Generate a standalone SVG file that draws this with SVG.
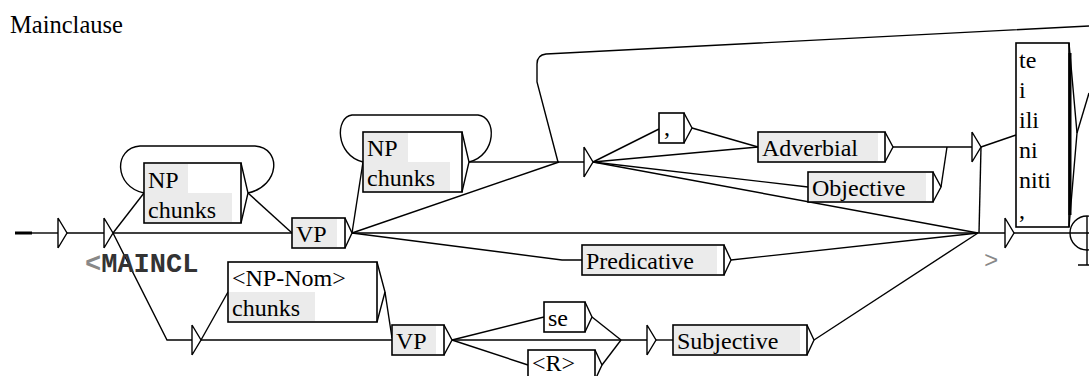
<svg xmlns="http://www.w3.org/2000/svg" width="1089" height="376" viewBox="0 0 1089 376">
<style>
.bx{fill:#fff;stroke:#000;stroke-width:1.6}
.g{fill:#ebebeb}
.t{font-family:"Liberation Serif","Times New Roman",serif;font-size:24px;fill:#000}
.ln{fill:none;stroke:#000;stroke-width:1.4}
.br{fill:none;stroke:#000;stroke-width:1.4}
.st{fill:#fff;stroke:#000;stroke-width:1.4}
.o{font-family:"Liberation Mono","Courier New",monospace;font-size:27px;font-weight:bold}
</style>
<rect width="1089" height="376" fill="#fff"/>
<text x="10" y="33" class="t" style="font-size:24.5px">Mainclause</text>

<g id="connectors">
<line x1="15" y1="233" x2="32" y2="233" stroke="#000" stroke-width="3"/>
<path class="ln" d="M32,233 H58"/>
<path class="ln" d="M67,233 H104"/>
<path class="ln" d="M113,233 L144,193"/>
<path class="ln" d="M113,233 H292"/>
<path class="ln" d="M113,233 L167,340 H192"/>
<path class="ln" d="M248,193 L292,233"/>
<path class="ln" d="M248,193 C280,186 282,148 255,146 L140,146 C113,148 114,187 144,193"/>
<path class="ln" d="M201,340 L228,292"/>
<path class="ln" d="M201,340 H392"/>
<path class="ln" d="M385,292 L392,338"/>
<path class="ln" d="M352,233 L363,162"/>
<path class="ln" d="M469,162 C497,155 497,117 478,115 L352,115 C335,117 335,155 363,162"/>
<path class="ln" d="M352,233 L559,162"/>
<path class="ln" d="M469,162 H584"/>
<path class="ln" d="M1089,26 L546,54 Q537,55 537,64 L537,82 L558,162"/>
<path class="ln" d="M352,233 H1005"/>
<path class="ln" d="M352,233 L562,260 H582"/>
<path class="ln" d="M731,260 L978,233"/>
<path class="ln" d="M593,162 L659,129"/>
<path class="ln" d="M593,162 L758,147"/>
<path class="ln" d="M692,128 L758,147"/>
<path class="ln" d="M593,162 L808,187"/>
<path class="ln" d="M593,162 L978,233"/>
<path class="ln" d="M893,147 H972"/>
<path class="ln" d="M941,187 L947,147"/>
<path class="ln" d="M981,147 L1016,135"/>
<path class="ln" d="M981,147 L979,233"/>
<path class="ln" d="M1014,233 H1089"/>
<path class="ln" d="M1077,133 L1089,93"/>
<path class="ln" d="M452,340 L544,317"/>
<path class="ln" d="M452,340 L528,365"/>
<path class="ln" d="M452,340 H647"/>
<path class="ln" d="M592,317 L621,340"/>
<path class="ln" d="M602,365 L621,340"/>
<path class="ln" d="M656,340 H673"/>
<path class="ln" d="M814,340 L978,233"/>
</g>

<g id="init"><path class="st" d="M58,218 V248 M58,218 L67,233 L58,248"/></g>
<g id="e1"><path class="st" d="M104,218 V248 M104,218 L113,233 L104,248"/>
<text x="85" y="272" class="o"><tspan fill="#888">&lt;</tspan><tspan fill="#333">MAINCL</tspan></text></g>
<g id="e2"><path class="st" d="M192,325 V355 M192,325 L201,340 L192,355"/></g>
<g id="e3"><path class="st" d="M584,147 V177 M584,147 L593,162 L584,177"/></g>
<g id="e4"><path class="st" d="M647,325 V355 M647,325 L656,340 L647,355"/></g>
<g id="e5"><path class="st" d="M972,132 V162 M972,132 L981,147 L972,162"/></g>
<g id="e6"><path class="st" d="M1005,218 V248 M1005,218 L1014,233 L1005,248"/>
<text x="984" y="268" style="font-family:'Liberation Mono',monospace;font-size:24px;fill:#888">&gt;</text></g>

<g id="np1"><rect class="bx" x="144" y="163" width="97" height="60"/>
<rect class="g" x="145" y="164" width="43" height="29"/><rect class="g" x="145" y="193" width="87" height="29"/>
<text class="t" x="148" y="188">NP</text><text class="t" x="148" y="218">chunks</text>
<path class="br" d="M241,163 L248,193 L241,223"/></g>

<g id="vp1"><rect class="bx" x="292" y="218" width="53" height="30"/>
<rect class="g" x="293" y="219" width="44" height="28"/>
<text class="t" x="296" y="242">VP</text>
<path class="br" d="M345,218 L352,233 L345,248"/></g>

<g id="np2"><rect class="bx" x="363" y="132" width="99" height="60"/>
<rect class="g" x="364" y="133" width="44" height="29"/><rect class="g" x="364" y="162" width="86" height="29"/>
<text class="t" x="367" y="156">NP</text><text class="t" x="367" y="186">chunks</text>
<path class="br" d="M462,132 L469,162 L462,192"/></g>

<g id="comma"><rect class="bx" x="659" y="113" width="25" height="30"/>
<text class="t" x="664" y="135">,</text>
<path class="br" d="M684,113 L692,128 L684,143"/></g>

<g id="adverbial"><rect class="bx" x="758" y="132" width="127" height="30"/>
<rect class="g" x="759" y="133" width="119" height="28"/>
<text class="t" x="762" y="156">Adverbial</text>
<path class="br" d="M885,132 L893,147 L885,162"/></g>

<g id="objective"><rect class="bx" x="808" y="172" width="125" height="30"/>
<rect class="g" x="809" y="173" width="117" height="28"/>
<text class="t" x="812" y="196">Objective</text>
<path class="br" d="M933,172 L941,187 L933,202"/></g>

<g id="predicative"><rect class="bx" x="582" y="245" width="142" height="30"/>
<rect class="g" x="583" y="246" width="134" height="28"/>
<text class="t" x="586" y="269">Predicative</text>
<path class="br" d="M724,245 L731,260 L724,275"/></g>

<g id="npnom"><rect class="bx" x="228" y="262" width="149" height="60"/>
<rect class="g" x="229" y="292" width="86" height="29"/>
<text class="t" x="232" y="286">&lt;NP-Nom&gt;</text><text class="t" x="232" y="316">chunks</text>
<path class="br" d="M377,262 L385,292 L377,322"/></g>

<g id="vp2"><rect class="bx" x="392" y="325" width="52" height="30"/>
<rect class="g" x="393" y="326" width="43" height="28"/>
<text class="t" x="396" y="349">VP</text>
<path class="br" d="M444,325 L452,340 L444,355"/></g>

<g id="se"><rect class="bx" x="544" y="302" width="41" height="30"/>
<text class="t" x="548" y="326">se</text>
<path class="br" d="M585,302 L592,317 L585,332"/></g>

<g id="r"><rect class="bx" x="528" y="350" width="67" height="30"/>
<text class="t" x="532" y="371">&lt;R&gt;</text>
<path class="br" d="M595,350 L602,365 L595,380"/></g>

<g id="subjective"><rect class="bx" x="673" y="325" width="134" height="30"/>
<rect class="g" x="674" y="326" width="126" height="28"/>
<text class="t" x="677" y="349">Subjective</text>
<path class="br" d="M807,325 L814,340 L807,355"/></g>

<g id="conj"><rect class="bx" x="1016" y="43" width="53" height="184"/>
<text class="t" x="1019" y="68">te</text><text class="t" x="1019" y="98">i</text>
<text class="t" x="1019" y="128">ili</text><text class="t" x="1019" y="158">ni</text>
<text class="t" x="1019" y="188">niti</text><text class="t" x="1019" y="218">,</text>
<line x1="1070" y1="53" x2="1070" y2="215" stroke="#000" stroke-width="3"/>
<path class="br" d="M1069,43 L1077,133 L1069,227"/></g>

<g id="final"><circle cx="1087" cy="233" r="17" fill="none" stroke="#000" stroke-width="1.4"/>
<path class="ln" d="M1087,216 V265 M1078,265 H1096"/></g>
</svg>
